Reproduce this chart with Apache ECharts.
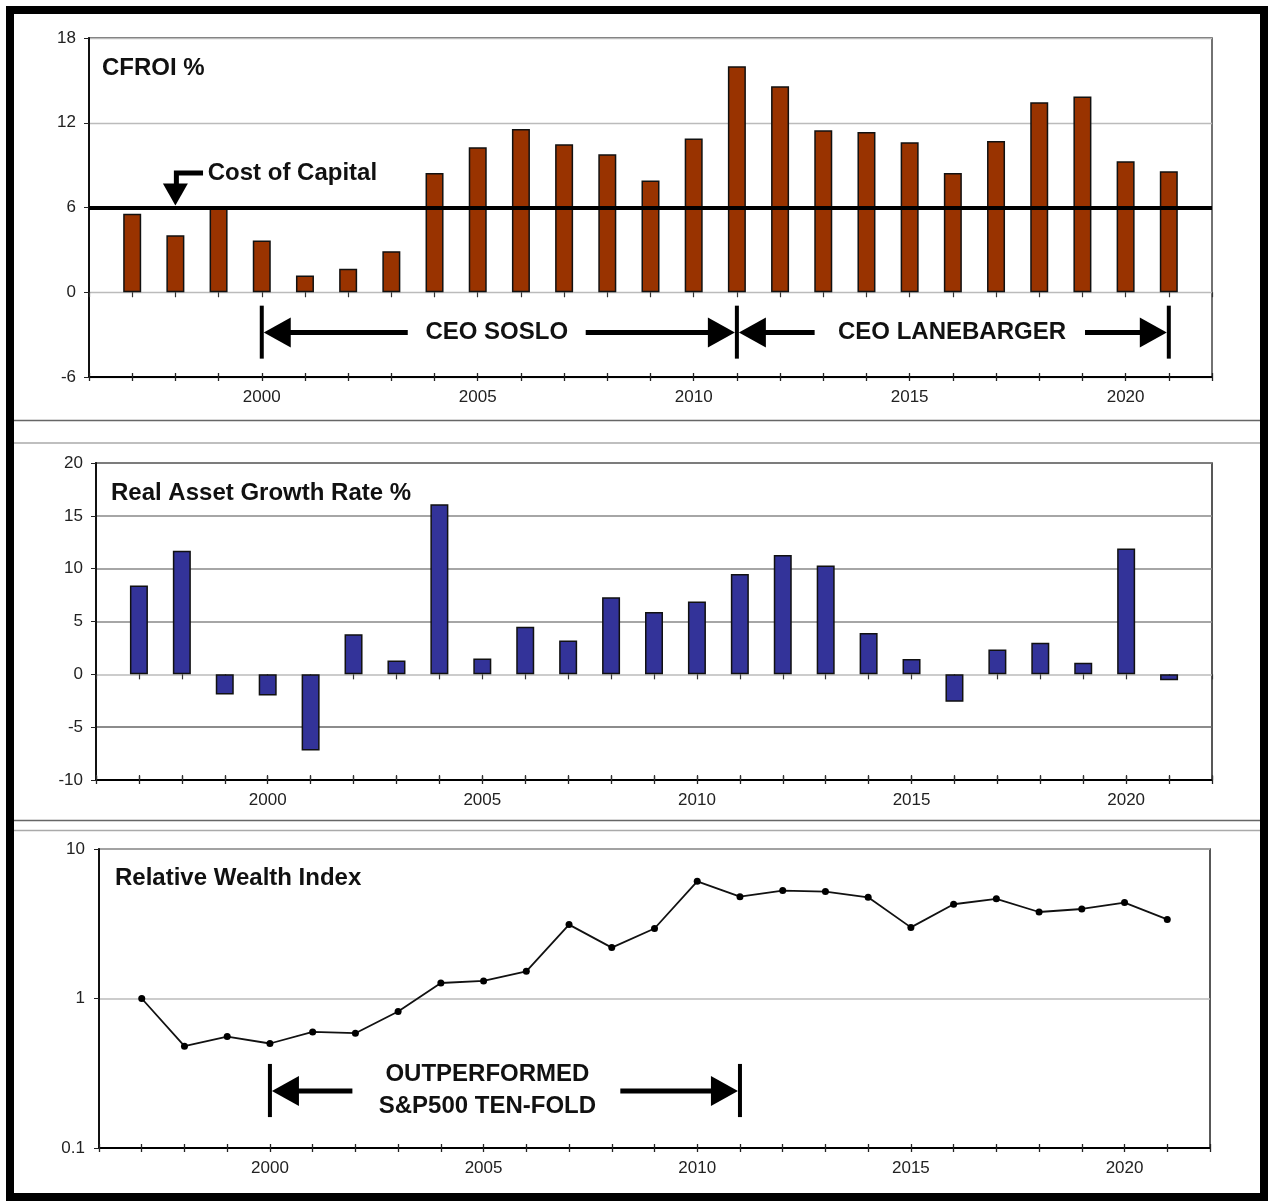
<!DOCTYPE html>
<html><head><meta charset="utf-8">
<script src="https://cdn.jsdelivr.net/npm/echarts@6/dist/echarts.min.js"></script>
<style>html,body{margin:0;padding:0;background:#fff}#c{width:1268px;height:1201px}</style>
</head><body><div id="c"></div>
<script>
// ---------- data ----------
const years = [1997,1998,1999,2000,2001,2002,2003,2004,2005,2006,2007,2008,2009,2010,2011,2012,2013,2014,2015,2016,2017,2018,2019,2020,2021];
const cfroi = [5.56,4.04,5.95,3.67,1.18,1.66,2.91,8.44,10.26,11.56,10.47,9.77,7.92,10.88,16.0,14.59,11.47,11.35,10.62,8.44,10.71,13.45,13.86,9.27,8.56];
const assetGrowth = [8.4,11.7,-1.9,-2.0,-7.2,3.8,1.3,16.1,1.5,4.5,3.2,7.3,5.9,6.9,9.5,11.3,10.3,3.9,1.45,-2.6,2.35,3.0,1.1,11.9,-0.55];
const wealthIndex = [1.0,0.48,0.556,0.50,0.598,0.586,0.818,1.27,1.31,1.52,3.12,2.19,2.94,6.08,4.80,5.27,5.19,4.75,2.99,4.27,4.64,3.79,3.97,4.38,3.38];
const costOfCapital = 6;
const titles = ['CFROI %', 'Real Asset Growth Rate %', 'Relative Wealth Index'];
const ceoSoslo = [2000, 2011];
const ceoLanebarger = [2011, 2021];
const outperformed = [2000, 2011];

const FONT = '"Liberation Sans", Arial, sans-serif';
const chart = echarts.init(document.getElementById('c'));

function xAxes(grid, zeroTicks) {
  const base = {type:'value', gridIndex:grid, min:1996, max:2022, interval:1, position:'bottom', splitLine:{show:false}};
  const arr = [
    Object.assign({}, base, {
      axisLine:{show:true, onZero:false, lineStyle:{color:'#000', width:2}},
      axisTick:{show:true, length:4, lineStyle:{color:'#222', width:1.3}},
      axisLabel:{show:true, margin:12, fontSize:17, color:'#222', fontFamily:FONT, formatter:v => v % 5 === 0 ? String(v) : ''}
    }),
    Object.assign({}, base, {
      axisLine:{show:false, onZero:false},
      axisTick:{show:true, inside:true, length:4, lineStyle:{color:'#222', width:1.3}},
      axisLabel:{show:false}
    })
  ];
  if (zeroTicks === 'down' || zeroTicks === 'cross') {
    arr.push(Object.assign({}, base, {
      axisLine:{show:false, onZero:true},
      axisTick:{show:true, length:5, lineStyle:{color:'#333', width:1.2}},
      axisLabel:{show:false}
    }));
  }
  if (zeroTicks === 'cross') {
    arr.push(Object.assign({}, base, {
      axisLine:{show:false, onZero:true},
      axisTick:{show:true, inside:true, length:5, lineStyle:{color:'#333', width:1.2}},
      axisLabel:{show:false}
    }));
  }
  return arr;
}
const xa0 = xAxes(0, 'down');
const xa1 = xAxes(1, 'cross');
const xa2 = xAxes(2, 'none');
const xAxisAll = xa0.concat(xa1, xa2);
const idx1 = xa0.length, idx2 = xa0.length + xa1.length;

const yLabel = {fontSize:17, color:'#222', fontFamily:FONT};
const option = {
  animation:false,
  backgroundColor:'#fff',
  title: [
    {text:titles[0], left:97, top:51, textStyle:{fontSize:24, fontWeight:'bold', color:'#111', fontFamily:FONT}},
    {text:titles[1], left:106, top:476, textStyle:{fontSize:24, fontWeight:'bold', color:'#111', fontFamily:FONT}},
    {text:titles[2], left:110, top:861, textStyle:{fontSize:24, fontWeight:'bold', color:'#111', fontFamily:FONT}}
  ],
  grid: [
    {left:89, right:56, top:38, height:339, show:true, borderColor:'#444', borderWidth:1.5, backgroundColor:'transparent'},
    {left:96, right:56, top:463, height:317, show:true, borderColor:'#222', borderWidth:1.5, backgroundColor:'transparent'},
    {left:99, right:58, top:849, height:299, show:true, borderColor:'#222', borderWidth:1.5, backgroundColor:'transparent'}
  ],
  xAxis: xAxisAll,
  yAxis: [
    {type:'value', gridIndex:0, min:-6, max:18, interval:6,
      axisLine:{show:true, lineStyle:{color:'#111', width:2}}, axisTick:{show:true, length:5, lineStyle:{color:'#222'}},
      axisLabel:Object.assign({margin:13}, yLabel),
      splitLine:{show:true, lineStyle:{color:'#bbb', width:1.3}}},
    {type:'value', gridIndex:1, min:-10, max:20, interval:5,
      axisLine:{show:true, lineStyle:{color:'#111', width:2}}, axisTick:{show:true, length:5, lineStyle:{color:'#222'}},
      axisLabel:Object.assign({margin:13}, yLabel),
      splitLine:{show:true, lineStyle:{color:['#777','#666','#bbb','#888','#888','#888','#888'], width:1.5}}},
    {type:'log', logBase:10, gridIndex:2, min:0.1, max:10,
      axisLine:{show:true, lineStyle:{color:'#111', width:2}}, axisTick:{show:true, length:5, lineStyle:{color:'#222'}},
      axisLabel:Object.assign({margin:14, formatter:v => String(v)}, yLabel),
      minorTick:{show:false},
      splitLine:{show:true, lineStyle:{color:'#bbb', width:1.5}}}
  ],
  series: [
    {type:'bar', xAxisIndex:0, yAxisIndex:0, barWidth:18,
      data: years.map((y,i)=>[y, cfroi[i]]),
      itemStyle:{color:'#993300', borderColor:'#111', borderWidth:1.5},
      markLine:{silent:true, symbol:['none','none'], label:{show:false},
        lineStyle:{color:'#000', width:4, type:'solid'}, data:[{yAxis:costOfCapital}]}},
    {type:'bar', xAxisIndex:idx1, yAxisIndex:1, barWidth:18,
      data: years.map((y,i)=>[y, assetGrowth[i]]),
      itemStyle:{color:'#333399', borderColor:'#111', borderWidth:1.5}},
    {type:'line', xAxisIndex:idx2, yAxisIndex:2,
      data: years.map((y,i)=>[y, wealthIndex[i]]),
      symbol:'circle', symbolSize:7, itemStyle:{color:'#000'},
      lineStyle:{color:'#111', width:1.8}}
  ]
};
chart.setOption(option);

// ---------- annotations (positioned through the axes) ----------
const P = (si, x, y) => chart.convertToPixel({seriesIndex:si}, [x, y]);
const G = [];
const HEAD_L = 27, HEAD_H = 15, SHAFT = 5;
function head(tipX, tipY, dir) {
  G.push({type:'polygon', shape:{points:[[tipX,tipY],[tipX-dir*HEAD_L,tipY-HEAD_H],[tipX-dir*HEAD_L,tipY+HEAD_H]]}, style:{fill:'#000'}, z:100});
}
function seg(x1,y1,x2,y2,w) {
  G.push({type:'line', shape:{x1,y1,x2,y2}, style:{stroke:'#000', lineWidth:w||SHAFT}, z:100});
}
function txt(x,y,t,size,align) {
  G.push({type:'text', x, y, style:{text:t, fill:'#111', font:'bold '+size+'px '+FONT, align:align||'center', verticalAlign:'middle'}, z:100});
}
function vbar(si, xv, y1v, y2v) {
  const a = P(si, xv, y1v), b = P(si, xv, y2v);
  seg(a[0], a[1], b[0], b[1], 4);
}
function spanArrow(si, x1v, x2v, yv, gapL, gapR, label, labelX) {
  const a = P(si, x1v, yv), b = P(si, x2v, yv);
  const y = a[1];
  const l = P(si, gapL, yv)[0], r = P(si, gapR, yv)[0];
  head(a[0]+2, y, -1); seg(a[0]+2+HEAD_L-2, y, l, y);
  head(b[0]-2, y, 1); seg(r, y, b[0]-2-HEAD_L+2, y);
  if (label) txt(P(si, labelX, yv)[0], y, label, 24);
}
vbar(0, ceoSoslo[0], -0.95, -4.7);
vbar(0, ceoSoslo[1], -0.95, -4.7);
vbar(0, ceoLanebarger[1], -0.95, -4.7);
spanArrow(0, ceoSoslo[0], ceoSoslo[1], -2.85, 2003.38, 2007.5, 'CEO SOSLO', 2005.44);
spanArrow(0, ceoLanebarger[0], ceoLanebarger[1], -2.85, 2012.8, 2019.06, 'CEO LANEBARGER', 2015.98);
(function(){
  const tip = P(0, 1998, 6.14), top = P(0, 1998, 8.44), end = P(0, 1998.64, 8.44), base = P(0, 1998, 7.7);
  G.push({type:'polyline', shape:{points:[[end[0], top[1]],[tip[0]+1, top[1]],[tip[0]+1, base[1]+1]]}, style:{stroke:'#000', lineWidth:5, fill:'none'}, z:100});
  G.push({type:'polygon', shape:{points:[[tip[0],tip[1]],[tip[0]-12.5,base[1]],[tip[0]+12.5,base[1]]]}, style:{fill:'#000'}, z:100});
  const tp = P(0, 1998.75, 8.42);
  txt(tp[0], tp[1], 'Cost of Capital', 24, 'left');
})();
vbar(2, outperformed[0], 0.365, 0.161);
vbar(2, outperformed[1], 0.365, 0.161);
spanArrow(2, outperformed[0], outperformed[1], 0.2406, 2001.93, 2008.2, null, 0);
(function(){
  const p1 = P(2, 2005.09, 0.313), p2 = P(2, 2005.09, 0.191);
  txt(p1[0], p1[1], 'OUTPERFORMED', 24);
  txt(p2[0], p2[1], 'S&P500 TEN-FOLD', 24);
})();
G.push({type:'rect', shape:{x:10, y:10, width:1254, height:1187}, style:{fill:'none', stroke:'#000', lineWidth:8}, z:100});
[[420.5,'#666'],[443,'#aaa'],[820.5,'#666'],[830.5,'#aaa']].forEach(([y,c]) => {
  G.push({type:'line', shape:{x1:14, y1:y, x2:1260, y2:y}, style:{stroke:c, lineWidth:1.5}, z:100});
});
chart.setOption({graphic: G});
</script></body></html>
